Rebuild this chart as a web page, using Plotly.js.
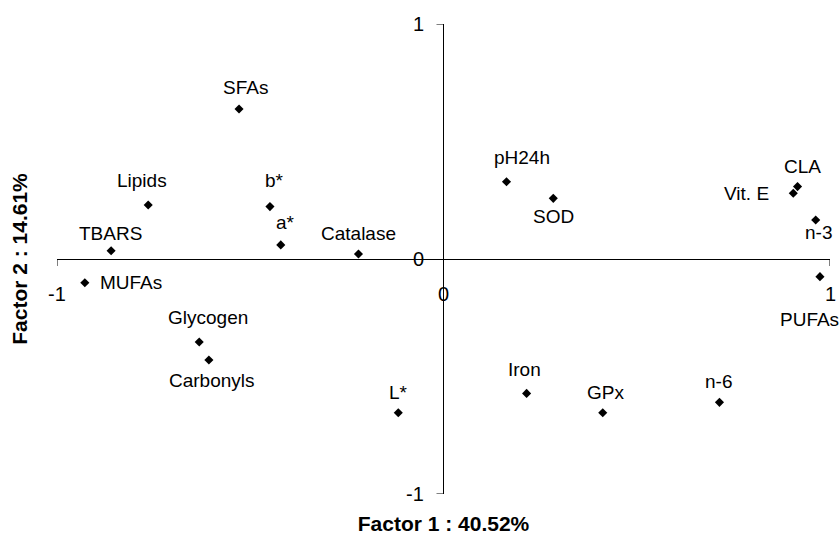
<!DOCTYPE html>
<html>
<head>
<meta charset="utf-8">
<script src="https://cdn.plot.ly/plotly-3.0.1.min.js"></script>
<style>html,body{margin:0;padding:0;background:#fff;}#chart{width:839px;height:541px;}</style>
</head>
<body>
<div id="chart"></div>
<script>
// Variables (PCA loadings)
const labels = ['SFAs','Lipids','b*','a*','TBARS','Catalase','MUFAs','Glycogen','Carbonyls','L*','pH24h','SOD','Iron','GPx','n-6','CLA','Vit. E','n-3','PUFAs'];
const factor1 = [-0.529,-0.764,-0.449,-0.421,-0.860,-0.220,-0.928,-0.632,-0.607,-0.117,0.163,0.284,0.215,0.412,0.714,0.916,0.905,0.963,0.974];
const factor2 = [0.638,0.230,0.223,0.060,0.035,0.021,-0.101,-0.353,-0.430,-0.654,0.329,0.258,-0.572,-0.654,-0.610,0.308,0.280,0.166,-0.075];
const xTickVals = [-1,0,1];
const xTickText = ['-1','0','1'];
const yTickVals = [-1,0,1];
const yTickText = ['-1','0','1'];
const xTitle = 'Factor 1 : 40.52%';
const yTitle = 'Factor 2 : 14.61%';

// label placement (pixel offsets from marker: [dx, dy], dy positive = down)
const labelOffsets = [[6,-22],[-6,-24],[5,-26],[5,-22],[-1,-17],[0,-21],[46,0],[9,-24],[3,20],[0,-20],[15,-24],[0,18],[-2,-24],[3,-20],[-1,-21],[5,-20],[-47,0],[3,13],[-10,43]];

const FONT = 'Arial, "Liberation Sans", sans-serif';

const annotations = labels.map((t,i)=>({
  x: factor1[i], y: factor2[i], xref:'x', yref:'y', text:t, showarrow:false,
  xanchor:'center', yanchor:'middle',
  xshift: labelOffsets[i][0], yshift: -labelOffsets[i][1],
  font:{family:FONT, size:19, color:'#000'}
}));
xTickVals.forEach((v,i)=>annotations.push({
  x:v, y:0, xref:'x', yref:'y', text:xTickText[i], showarrow:false,
  xanchor:'center', yanchor:'middle', yshift:-35,
  font:{family:FONT, size:20, color:'#000'}
}));
yTickVals.forEach((v,i)=>annotations.push({
  x:0, y:v, xref:'x', yref:'y', text:yTickText[i], showarrow:false,
  xanchor:'right', yanchor:'middle', xshift:-18,
  font:{family:FONT, size:20, color:'#000'}
}));

const shapes = [];
xTickVals.filter(v=>v!==0).forEach(v=>shapes.push({
  type:'line', xref:'x', yref:'y', ysizemode:'pixel', yanchor:0,
  x0:v, x1:v, y0:0, y1:-7, line:{color:'#000', width:1}
}));
yTickVals.filter(v=>v!==0).forEach(v=>shapes.push({
  type:'line', xref:'x', yref:'y', xsizemode:'pixel', xanchor:0,
  x0:-7, x1:0, y0:v, y1:v, line:{color:'#000', width:1}
}));

const trace = {
  type:'scatter', mode:'markers', x:factor1, y:factor2, text:labels,
  marker:{symbol:'diamond', size:7, color:'#000'},
  hoverinfo:'text', cliponaxis:false
};

const layout = {
  width:839, height:541,
  margin:{l:57, r:9, t:24, b:47},
  paper_bgcolor:'#fff', plot_bgcolor:'#fff',
  showlegend:false,
  font:{family:FONT, color:'#000'},
  xaxis:{range:[-1,1], showgrid:false, zeroline:true, zerolinecolor:'#000', zerolinewidth:1,
    showline:false, ticks:'', showticklabels:false, fixedrange:true,
    title:{text:xTitle, font:{family:FONT, size:21, color:'#000', weight:'bold'}, standoff:22}},
  yaxis:{range:[-1,1], showgrid:false, zeroline:true, zerolinecolor:'#000', zerolinewidth:1,
    showline:false, ticks:'', showticklabels:false, fixedrange:true,
    title:{text:yTitle, font:{family:FONT, size:21, color:'#000', weight:'bold'}, standoff:22}},
  annotations:annotations,
  shapes:shapes
};

Plotly.newPlot('chart', [trace], layout, {displayModeBar:false, staticPlot:true});
</script>
</body>
</html>
